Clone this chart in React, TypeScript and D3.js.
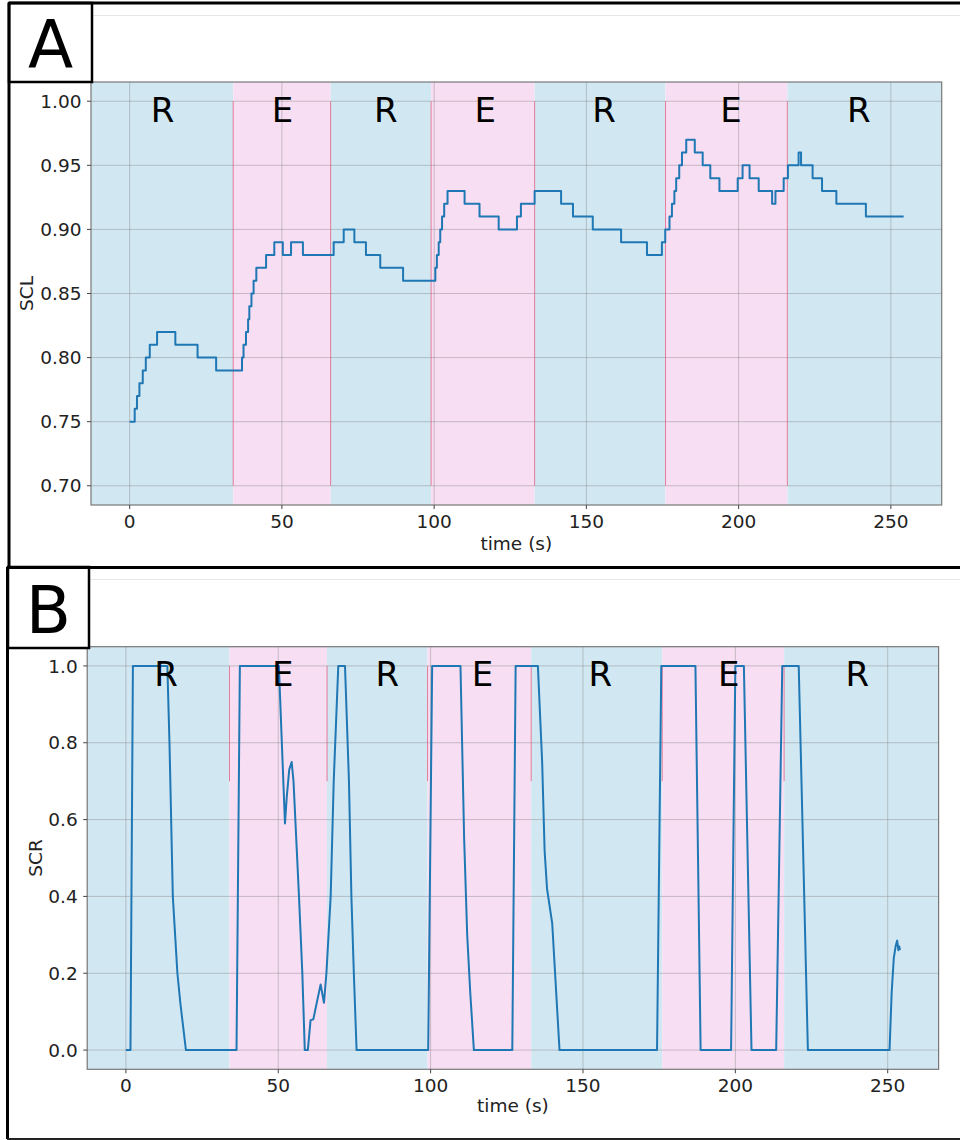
import React from "react";
import * as d3 from "d3";

// ---------- data ----------
const phaseBounds = [34, 66, 99, 133, 176, 216];
const phaseNames = ["R", "E", "R", "E", "R", "E", "R"];
const labelTimesA = [10.8, 50.2, 84.1, 116.8, 155.8, 197.5, 239.5];
const labelTimesB = [13.2, 51.5, 85.8, 117.0, 155.7, 197.8, 240.0];

const xTicks = [0, 50, 100, 150, 200, 250];
const sclTicks = [0.7, 0.75, 0.8, 0.85, 0.9, 0.95, 1.0];
const scrTicks = [0, 0.2, 0.4, 0.6, 0.8, 1.0];

const sclTime = [
  0, 1.65, 2.4, 3.2, 4.3, 5.3, 6.6, 9.0, 15.0, 22.3, 28.4, 36.9, 37.4, 38.2, 38.9,
  39.3, 40.0, 40.7, 41.6, 44.8, 47.5, 50.3, 53.0, 56.9, 67.0, 70.3, 73.8, 77.6, 82.3,
  89.8, 100.4, 100.9, 101.5, 102.0, 102.6, 103.3, 104.4, 110.0, 114.9, 121.2, 127.2,
  128.5, 133.0, 141.7, 145.6, 152.1, 161.4, 169.9, 174.8, 175.9, 177.3, 178.1, 178.9,
  179.5, 180.5, 181.4, 182.8, 185.6, 188.2, 190.7, 193.7, 199.7, 201.3, 203.6, 206.6,
  211.0, 212.1, 214.8, 216.2, 219.7, 220.5, 224.3, 227.4, 232.1, 241.8, 254.2,
];
const sclValue = [
  0.75, 0.76, 0.77, 0.78, 0.79, 0.8, 0.81, 0.82, 0.81, 0.8, 0.79, 0.8, 0.81, 0.82, 0.83,
  0.84, 0.85, 0.86, 0.87, 0.88, 0.89, 0.88, 0.89, 0.88, 0.89, 0.9, 0.89, 0.88, 0.87,
  0.86, 0.87, 0.88, 0.89, 0.9, 0.91, 0.92, 0.93, 0.92, 0.91, 0.9, 0.91,
  0.92, 0.93, 0.92, 0.91, 0.9, 0.89, 0.88, 0.89, 0.9, 0.91, 0.92, 0.93,
  0.94, 0.95, 0.96, 0.97, 0.96, 0.95, 0.94, 0.93, 0.94, 0.95, 0.94, 0.93,
  0.92, 0.93, 0.94, 0.95, 0.96, 0.95, 0.94, 0.93, 0.92, 0.91, 0.91,
];

const scrTime = [
  0, 1.5, 2.3, 13.6, 14.3, 15.4, 16.9, 17.9, 19.7, 36.3, 37.4, 50.2, 52.2, 52.8, 53.6,
  54.4, 55.0, 56.8, 57.9, 58.7, 59.7, 60.6, 61.5, 63.9, 65.0, 65.8, 67.2, 68.2, 69.7,
  71.9, 73.2, 74.0, 74.8, 75.7, 99.2, 100.5, 109.8, 111.0, 112.0, 113.0, 114.2, 126.8,
  127.9, 135.2, 136.6, 137.4, 138.2, 139.9, 142.3, 174.3, 175.7, 186.9, 188.6, 198.6,
  200.0, 202.8, 205.3, 213.4, 215.4, 220.8, 223.8, 250.6, 251.3, 252.0, 252.6, 253.1,
  253.5, 253.8, 254.0,
];
const scrValue = [
  0, 0, 1, 1, 0.8, 0.4, 0.2, 0.12, 0, 0, 1, 1, 0.59, 0.66, 0.73,
  0.75, 0.7, 0.4, 0.2, 0, 0, 0.078, 0.08, 0.171, 0.123, 0.2, 0.4, 0.7, 1,
  1, 0.7, 0.4, 0.2, 0, 0, 1, 1, 0.55, 0.3, 0.15, 0, 0,
  1, 1, 0.75, 0.52, 0.42, 0.33, 0, 0, 1, 1, 0, 0,
  1, 1, 0, 0, 1, 1, 0, 0, 0.15, 0.24, 0.27, 0.285,
  0.26, 0.27, 0.26,
];

// ---------- styles ----------
const FONT = "DejaVu Sans, sans-serif";
const BLUE = "#d1e8f3";
const PINK = "#f8def3";
const LINE = "#1f77b4";
const RED = "#e2577a";
const GRID = "#8a8a8a";

type PanelProps = {
  letter: string;
  top: number;
  box: { x: number; y: number; w: number; h: number };
  plot: { l: number; r: number; t: number; b: number };
  yDomain: [number, number];
  yTicks: number[];
  yFmt: (v: number) => string;
  yLabel: string;
  yLabelX: number;
  titleDy: number;
  labelTimes: number[];
  times: number[];
  values: number[];
  step: boolean;
};

function Panel(p: PanelProps) {
  const x = d3.scaleLinear().domain([-12.7, 266.7]).range([p.plot.l, p.plot.r]);
  const y = d3.scaleLinear().domain(p.yDomain).range([p.plot.b, p.plot.t]);
  const edges = [-12.7, ...phaseBounds, 266.7];
  const pts: [number, number][] = p.times.map((t, i) => [t, p.values[i]]);
  const line = d3
    .line<[number, number]>()
    .x((d) => x(d[0]))
    .y((d) => y(d[1]))
    .curve(p.step ? d3.curveStepAfter : d3.curveLinear);
  const cy = (p.plot.t + p.plot.b) / 2;
  const cx = (p.plot.l + p.plot.r) / 2;
  return (
    <g>
      {phaseNames.map((n, i) => (
        <rect
          key={"s" + i}
          x={x(edges[i])}
          y={p.plot.t}
          width={x(edges[i + 1]) - x(edges[i])}
          height={p.plot.b - p.plot.t}
          fill={n === "R" ? BLUE : PINK}
        />
      ))}
      {xTicks.map((t) => (
        <line key={"gx" + t} x1={x(t)} x2={x(t)} y1={p.plot.t} y2={p.plot.b} stroke={GRID} strokeOpacity={0.45} strokeWidth={1} />
      ))}
      {p.yTicks.map((t) => (
        <line key={"gy" + t} x1={p.plot.l} x2={p.plot.r} y1={y(t)} y2={y(t)} stroke={GRID} strokeOpacity={0.45} strokeWidth={1} />
      ))}
      {phaseBounds.map((b) => (
        <line key={"rb" + b} x1={x(b)} x2={x(b)} y1={y(0.7)} y2={y(1.0)} stroke={RED} strokeOpacity={0.75} strokeWidth={1} />
      ))}
      <path d={line(pts) || ""} fill="none" stroke={LINE} strokeWidth={2} strokeLinejoin="round" />
      {phaseNames.map((n, i) => (
        <text key={"pl" + i} x={x(p.labelTimes[i])} y={y(1.0) + 20.5} fontFamily={FONT} fontSize={34} textAnchor="middle" fill="#000">
          {n}
        </text>
      ))}
      <rect x={p.plot.l} y={p.plot.t} width={p.plot.r - p.plot.l} height={p.plot.b - p.plot.t} fill="none" stroke="#777" strokeWidth={1.2} />
      {xTicks.map((t) => (
        <g key={"xt" + t}>
          <line x1={x(t)} x2={x(t)} y1={p.plot.b} y2={p.plot.b + 4} stroke="#444" strokeWidth={1} />
          <text x={x(t)} y={p.plot.b + 22.5} fontFamily={FONT} fontSize={18.5} textAnchor="middle" fill="#222">
            {String(t)}
          </text>
        </g>
      ))}
      {p.yTicks.map((t) => (
        <g key={"yt" + t}>
          <line x1={p.plot.l - 4} x2={p.plot.l} y1={y(t)} y2={y(t)} stroke="#444" strokeWidth={1} />
          <text x={p.plot.l - 9.5} y={y(t) + 6.7} fontFamily={FONT} fontSize={18.5} textAnchor="end" fill="#222">
            {p.yFmt(t)}
          </text>
        </g>
      ))}
      <text x={cx} y={p.plot.b + p.titleDy} fontFamily={FONT} fontSize={18.5} textAnchor="middle" fill="#222">
        time (s)
      </text>
      <text
        transform={`translate(${p.yLabelX},${cy}) rotate(-90)`}
        fontFamily={FONT}
        fontSize={18.5}
        textAnchor="middle"
        fill="#222"
      >
        {p.yLabel}
      </text>
      <line x1={p.box.x + p.box.w} x2={960} y1={p.top + 12.5} y2={p.top + 12.5} stroke="#e6e6e6" strokeWidth={1} />
      <rect x={p.box.x} y={p.box.y} width={p.box.w} height={p.box.h} fill="#fff" stroke="#000" strokeWidth={2.5} />
      <text x={p.box.x + p.box.w / 2} y={p.box.y + p.box.h - 15.5} fontFamily={FONT} fontSize={66} textAnchor="middle" fill="#000">
        {p.letter}
      </text>
    </g>
  );
}

export default function App() {
  return (
    <svg width={960} height={1140} style={{ position: "absolute", left: 0, top: 0, background: "#fff" }}>
      <rect x={0} y={0} width={960} height={1140} fill="#fff" />
      <Panel
        letter="A"
        top={3}
        box={{ x: 9, y: 3, w: 83, h: 79 }}
        plot={{ l: 91, r: 941.7, t: 82, b: 505 }}
        yDomain={[0.685, 1.015]}
        yTicks={sclTicks}
        yFmt={(v) => v.toFixed(2)}
        yLabel="SCL"
        yLabelX={32.5}
        titleDy={45}
        labelTimes={labelTimesA}
        times={sclTime}
        values={sclValue}
        step={true}
      />
      <Panel
        letter="B"
        top={567}
        box={{ x: 8, y: 567, w: 81, h: 81 }}
        plot={{ l: 87.2, r: 938.6, t: 646.7, b: 1069.3 }}
        yDomain={[-0.05, 1.05]}
        yTicks={scrTicks}
        yFmt={(v) => v.toFixed(1)}
        yLabel="SCR"
        yLabelX={41.7}
        titleDy={43}
        labelTimes={labelTimesB}
        times={scrTime}
        values={scrValue}
        step={false}
      />
      <line x1={9} x2={960} y1={3} y2={3} stroke="#000" strokeWidth={3} />
      <line x1={9} x2={9} y1={3} y2={567} stroke="#000" strokeWidth={3} />
      <line x1={7} x2={960} y1={567.5} y2={567.5} stroke="#000" strokeWidth={3} />
      <line x1={7.5} x2={7.5} y1={567} y2={1139} stroke="#000" strokeWidth={3} />
      <line x1={7} x2={960} y1={1139} y2={1139} stroke="#222" strokeWidth={2} />
    </svg>
  );
}
